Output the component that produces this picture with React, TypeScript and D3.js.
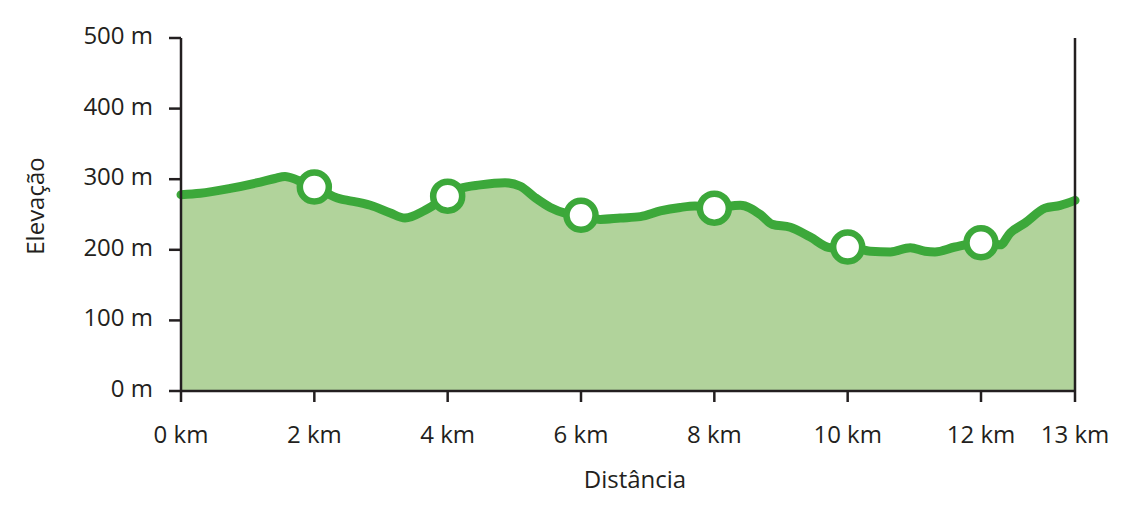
import * as d3 from 'd3'

// distance in km, elevation in m
const DIST = [
  0, 0.29, 0.74, 1.19, 1.41, 1.56, 1.74, 2.0, 2.39, 2.5, 2.84, 3.14, 3.36, 3.66, 4.0, 4.19,
  4.49, 4.86, 5.09, 5.31, 5.54, 5.76, 6.0, 6.29, 6.59, 6.89, 7.19, 7.49, 7.71, 8.0, 8.39,
  8.69, 8.87, 9.14, 9.44, 9.74, 10.0, 10.34, 10.64, 10.94, 11.16, 11.31, 11.61, 12.0, 12.29,
  12.44, 12.66, 12.96, 13.19, 13.41,
]
const ELEV = [
  278, 280, 287, 296, 301, 304, 299, 289, 272, 270, 263, 252, 245, 256, 276, 287, 292, 295,
  290, 274, 260, 252, 249, 243, 245, 247, 255, 260, 262, 259, 263, 250, 236, 232, 218, 203,
  204, 198, 197, 203, 198, 197, 204, 210, 207, 224, 238, 259, 263, 270,
]
const MARKERS_KM = [2, 4, 6, 8, 10, 12]
const X_TICKS = [0, 2, 4, 6, 8, 10, 12]
const Y_TICKS = [0, 100, 200, 300, 400, 500]
const TOTAL_KM = 13.41
const END_LABEL = '13 km'

const W = 1147
const H = 515
const margin = { left: 181, right: 72, top: 38, bottom: 124 }
const GREEN = '#3ca83a'
const FILL = '#b1d39b'
const INK = '#231f20'
const FONT = '"Open Sans", "Noto Sans", sans-serif'

export default function App() {
  const x = d3.scaleLinear().domain([0, TOTAL_KM]).range([margin.left, W - margin.right])
  const y = d3.scaleLinear().domain([0, 500]).range([H - margin.bottom, margin.top])
  const pts = DIST.map((d, i) => [d, ELEV[i]] as [number, number])
  const elevAt = (km: number) => {
    const i = DIST.indexOf(km)
    return i >= 0 ? ELEV[i] : ELEV[d3.bisectLeft(DIST, km)]
  }

  const area = d3
    .area<[number, number]>()
    .x((d) => x(d[0]))
    .y0(y(0))
    .y1((d) => y(d[1]))
    .curve(d3.curveMonotoneX)
  const line = d3
    .line<[number, number]>()
    .x((d) => x(d[0]))
    .y((d) => y(d[1]))
    .curve(d3.curveMonotoneX)

  const x0 = x(0)
  const x1 = x(TOTAL_KM)
  const yb = y(0)

  return (
    <svg
      width={W}
      height={H}
      style={{ position: 'absolute', left: 0, top: 0, background: '#fff' }}
      fontFamily={FONT}
    >
      <path d={area(pts) ?? ''} fill={FILL} />
      <path
        d={line(pts) ?? ''}
        fill="none"
        stroke={GREEN}
        strokeWidth={9}
        strokeLinejoin="round"
        strokeLinecap="round"
      />
      {/* axes */}
      <g stroke={INK} strokeWidth={2.5} fill="none">
        <line x1={x0} x2={x0} y1={y(500)} y2={yb + 11} />
        <line x1={x1} x2={x1} y1={y(500)} y2={yb + 11} />
        <line x1={x0 - 12} x2={x1} y1={yb} y2={yb} />
        {Y_TICKS.filter((t) => t > 0).map((t) => (
          <line key={t} x1={x0 - 12} x2={x0} y1={y(t)} y2={y(t)} />
        ))}
        {X_TICKS.filter((t) => t > 0).map((t) => (
          <line key={t} x1={x(t)} x2={x(t)} y1={yb} y2={yb + 11} />
        ))}
      </g>
      {/* markers */}
      {MARKERS_KM.map((km) => (
        <circle
          key={km}
          cx={x(km)}
          cy={y(elevAt(km))}
          r={14.5}
          fill="#fff"
          stroke={GREEN}
          strokeWidth={6.5}
        />
      ))}
      {/* labels */}
      <g fill={INK} fontSize={24}>
        {Y_TICKS.map((t) => (
          <text key={t} x={x0 - 28} y={y(t)} dy="0.25em" textAnchor="end">
            {`${t} m`}
          </text>
        ))}
        {X_TICKS.map((t) => (
          <text key={t} x={x(t)} y={yb + 52} textAnchor="middle">
            {`${t} km`}
          </text>
        ))}
        <text x={x1} y={yb + 52} textAnchor="middle">
          {END_LABEL}
        </text>
        <text x={635} y={yb + 97} textAnchor="middle">
          Distância
        </text>
        <text transform={`translate(44,${206}) rotate(-90)`} textAnchor="middle">
          Elevação
        </text>
      </g>
    </svg>
  )
}
